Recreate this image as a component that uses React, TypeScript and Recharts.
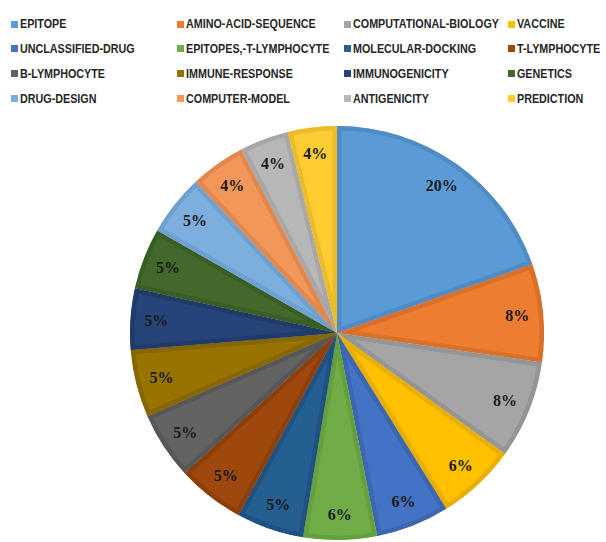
import { PieChart, Pie, Cell, Sector } from 'recharts';

const categories = [
  'EPITOPE',
  'AMINO-ACID-SEQUENCE',
  'COMPUTATIONAL-BIOLOGY',
  'VACCINE',
  'UNCLASSIFIED-DRUG',
  'EPITOPES,-T-LYMPHOCYTE',
  'MOLECULAR-DOCKING',
  'T-LYMPHOCYTE',
  'B-LYMPHOCYTE',
  'IMMUNE-RESPONSE',
  'IMMUNOGENICITY',
  'GENETICS',
  'DRUG-DESIGN',
  'COMPUTER-MODEL',
  'ANTIGENICITY',
  'PREDICTION',
];

const counts = [41, 16, 16, 13, 12, 12, 11, 11, 11, 11, 10, 10, 10, 9, 8, 8];

const fills = [
  '#5B9BD5', '#ED7D31', '#A5A5A5', '#FFC000',
  '#4472C4', '#70AD47', '#255E91', '#9E480E',
  '#636363', '#997300', '#264478', '#43682B',
  '#7CAFDD', '#F1975A', '#B7B7B7', '#FFCD33',
];

const borders = [
  '#4F8BC4', '#D96F28', '#959595', '#E8AE00',
  '#3C66B0', '#64A03D', '#1F5282', '#8C3F0B',
  '#575757', '#876600', '#203B6A', '#3A5C25',
  '#6EA1D0', '#E0884D', '#A8A8A8', '#EBBC2A',
];

const data = categories.map((name, i) => ({ name, value: counts[i] }));

// excel-style border: stroke clipped to the slice so it sits inside
const InsetSector = (props: any) => {
  const { cx, cy, innerRadius, outerRadius, startAngle, endAngle, fill, stroke, name } = props;
  const id = 'clip-' + String(name).replace(/[^A-Za-z]/g, '');
  const geo = { cx, cy, innerRadius, outerRadius, startAngle, endAngle };
  return (
    <g>
      <defs>
        <clipPath id={id}>
          <Sector {...geo} />
        </clipPath>
      </defs>
      <Sector {...geo} fill={fill} stroke={stroke} strokeWidth={9} clipPath={`url(#${id})`} />
    </g>
  );
};

const RADIAN = Math.PI / 180;

const renderLabel = ({ cx, cy, midAngle, outerRadius, percent }: any) => {
  const r = outerRadius * 0.875;
  const x = cx + r * Math.cos(-midAngle * RADIAN);
  const y = cy + r * Math.sin(-midAngle * RADIAN);
  return (
    <text
      x={x}
      y={y}
      textAnchor="middle"
      dominantBaseline="central"
      fill="#1a1a1a"
      fontFamily="'Liberation Serif', 'Times New Roman', serif"
      fontWeight="bold"
      fontSize={16}
    >
      {`${Math.round(percent * 100)}%`}
    </text>
  );
};

const colX = [11, 177, 344, 508];
const rowY = [24, 48.5, 73.5, 98.5];

function LegendBlock() {
  return (
    <div style={{ position: 'absolute', left: 0, top: 0, width: 606, height: 110 }}>
      {categories.map((name, i) => (
        <div
          key={name}
          style={{
            position: 'absolute',
            left: colX[i % 4],
            top: rowY[Math.floor(i / 4)] - 8,
            height: 16,
            display: 'flex',
            alignItems: 'center',
            whiteSpace: 'nowrap',
            fontFamily: "'Liberation Sans', Arial, sans-serif",
            fontWeight: 'bold',
            fontSize: 12.5,
            color: '#262626',
          }}
        >
          <span style={{ display: 'inline-block', width: 7, height: 7, background: fills[i], marginRight: 2 }} />
          <span style={{ display: 'inline-block', transform: 'scaleX(0.86)', transformOrigin: 'left center' }}>
            {name}
          </span>
        </div>
      ))}
    </div>
  );
}

export default function App() {
  return (
    <div style={{ position: 'absolute', left: 0, top: 0, width: 606, height: 542, background: '#fff', overflow: 'hidden' }}>
      <PieChart width={606} height={542} margin={{ top: 0, right: 0, bottom: 0, left: 0 }}>
        <Pie
          data={data}
          dataKey="value"
          nameKey="name"
          cx={337}
          cy={333}
          outerRadius={207}
          startAngle={90}
          endAngle={-270}
          label={renderLabel}
          labelLine={false}
          shape={InsetSector}
          inactiveShape={InsetSector}
          isAnimationActive={false}
        >
          {data.map((d, i) => (
            <Cell key={d.name} fill={fills[i]} stroke={borders[i]} />
          ))}
        </Pie>
      </PieChart>
      <LegendBlock />
    </div>
  );
}
